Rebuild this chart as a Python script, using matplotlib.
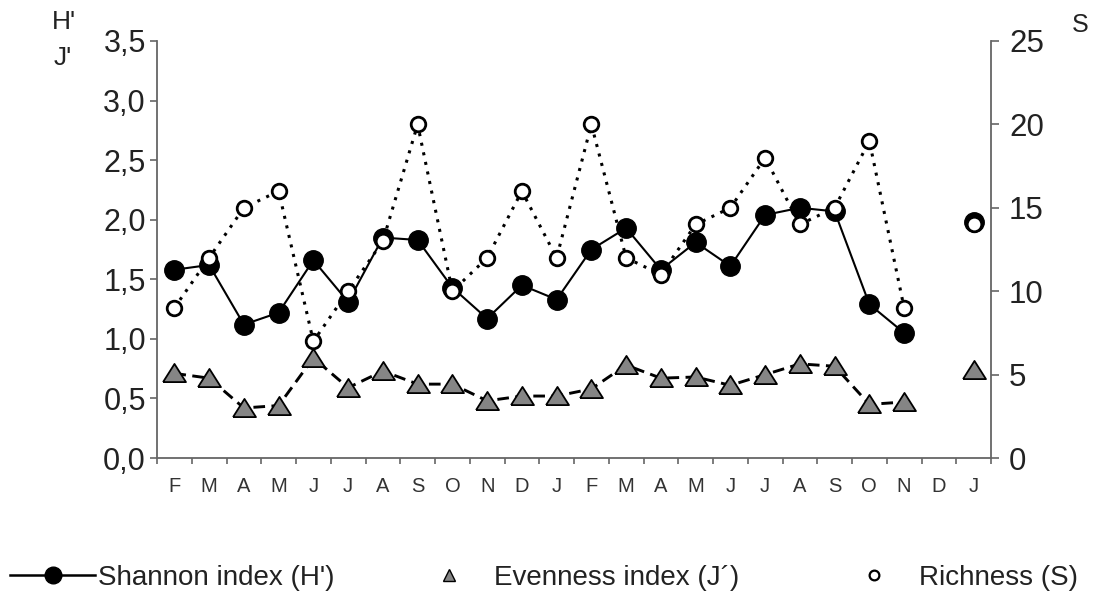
import numpy as np
import matplotlib
matplotlib.use("Agg")
import matplotlib.pyplot as plt
from matplotlib.lines import Line2D

plt.rcParams['font.family'] = ['Liberation Sans', 'DejaVu Sans']

months = ["F", "M", "A", "M", "J", "J", "A", "S", "O", "N", "D", "J",
          "F", "M", "A", "M", "J", "J", "A", "S", "O", "N", "D", "J"]
shannon = [1.58, 1.62, 1.12, 1.22, 1.66, 1.31, 1.85, 1.83, 1.43, 1.17, 1.45, 1.33,
           1.75, 1.93, 1.58, 1.81, 1.61, 2.04, 2.10, 2.07, 1.29, 1.05, np.nan, 1.98]
evenness = [0.71, 0.67, 0.42, 0.44, 0.84, 0.59, 0.73, 0.62, 0.62, 0.48, 0.52, 0.52,
            0.58, 0.78, 0.67, 0.68, 0.61, 0.70, 0.79, 0.77, 0.45, 0.47, np.nan, 0.74]
richness = [9, 12, 15, 16, 7, 10, 13, 20, 10, 12, 16, 12,
            20, 12, 11, 14, 15, 18, 14, 15, 19, 9, np.nan, 14]
left_ticks = [0.0, 0.5, 1.0, 1.5, 2.0, 2.5, 3.0, 3.5]
right_ticks = [0, 5, 10, 15, 20, 25]

W, H = 1093, 597
fig = plt.figure(figsize=(W / 100, H / 100), dpi=100)
ax = fig.add_axes([157 / W, 1 - 458 / H, (991 - 157) / W, (458 - 41) / H])
ax2 = ax.twinx()

x = np.arange(len(months)) + 0.5
spine_col = '#666666'
txt_col = '#222222'
tri = [(-1.2, -0.9), (1.2, -0.9), (0, 1.0), (-1.2, -0.9)]

# Evenness (left axis)
ax.plot(x, evenness, linestyle=(0, (4, 2.2)), color='black', lw=2.1,
        marker=tri, markersize=16.5, markerfacecolor='#858585',
        markeredgecolor='black', markeredgewidth=1.3, zorder=3)
# Shannon (left axis)
ax.plot(x, shannon, linestyle='-', color='black', lw=1.5,
        marker='o', markersize=14, markerfacecolor='black',
        markeredgecolor='black', zorder=4)
# Richness (right axis)
ax2.plot(x, richness, linestyle=(0, (1, 2.2)), color='black', lw=2.2,
         marker='o', markersize=10.5, markerfacecolor='white',
         markeredgecolor='black', markeredgewidth=2.0, zorder=5)

ax.set_xlim(0, 24)
ax.set_ylim(0, 3.5)
ax2.set_ylim(0, 25)

ax.set_yticks(left_ticks)
ax.set_yticklabels([f"{v:.1f}".replace('.', ',') for v in left_ticks])
ax2.set_yticks(right_ticks)
ax2.set_yticklabels([str(v) for v in right_ticks])

ax.set_xticks(np.arange(0, 25))
ax.set_xticklabels([])
ax.set_xticks(x, minor=True)
ax.set_xticklabels(months, minor=True)
ax.tick_params(axis='x', which='major', direction='out', length=4, width=1.2, color=spine_col)
ax.tick_params(axis='x', which='minor', length=0, pad=14, labelsize=14.5, labelcolor='#333333')
ax.tick_params(axis='y', direction='out', length=5, width=1.2, color=spine_col,
               labelsize=22, labelcolor=txt_col, pad=3)
ax2.tick_params(axis='y', direction='out', length=6, width=1.2, color=spine_col,
                labelsize=22.5, labelcolor=txt_col, pad=7)

for a in (ax, ax2):
    a.spines['top'].set_visible(False)
    for s in ('left', 'right', 'bottom'):
        a.spines[s].set_color(spine_col)
        a.spines[s].set_linewidth(1.3)
ax2.spines['left'].set_visible(False)
ax.spines['right'].set_visible(False)
ax2.spines['bottom'].set_visible(False)

fig.text(64 / W, 1 - 22 / H, "H'", fontsize=19, color=txt_col, ha='center', va='center')
fig.text(63 / W, 1 - 58 / H, "J'", fontsize=19, color=txt_col, ha='center', va='center')
fig.text(1080 / W, 1 - 25 / H, "S", fontsize=18, color=txt_col, ha='center', va='center')

# Legends
fs = 20
hl = 85 / (fs * 100 / 72)
h1 = Line2D([], [], color='black', lw=1.8, marker='o', markersize=12,
            markerfacecolor='black')
h2 = Line2D([], [], linestyle='None', marker='^', markersize=9,
            markerfacecolor='#858585', markeredgecolor='black', markeredgewidth=1.0)
h3 = Line2D([], [], linestyle='None', marker='o', markersize=7,
            markerfacecolor='white', markeredgecolor='black', markeredgewidth=1.6)
y_leg = 1 - 578 / H
for h, lab, x0 in [(h1, "Shannon index (H')", 10), (h2, "Evenness index (J´)", 406),
                   (h3, "Richness (S)", 831)]:
    lg = fig.legend([h], [lab], loc='center left', bbox_to_anchor=(x0 / W, y_leg),
                    frameon=False, fontsize=fs, handlelength=hl, handletextpad=0.1,
                    borderpad=0, borderaxespad=0)
    for t in lg.get_texts():
        t.set_color(txt_col)

fig.savefig("out.png", dpi=100)
